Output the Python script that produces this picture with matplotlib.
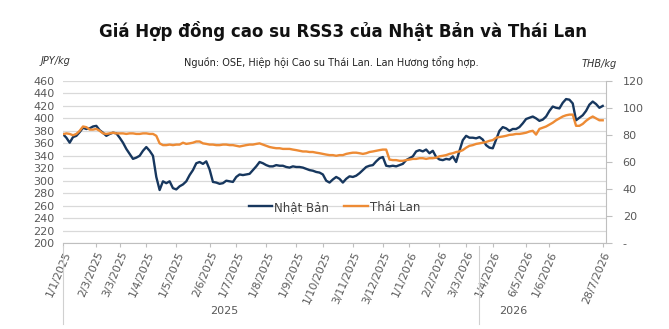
import matplotlib.pyplot as plt
from matplotlib.lines import Line2D

# Gia RSS3 Nhat Ban (JPY/kg, truc trai)
japan = [374.6, 369, 361, 370, 372, 378, 385, 383, 384, 387,
         388, 381, 377, 372, 375, 377, 376, 369, 361, 351,
         343, 335, 337, 340, 348, 354, 348, 340, 306, 285,
         299, 296, 299, 288, 286, 291, 294, 299, 309, 317,
         328, 330, 327,
         331, 318, 298, 297, 295, 296, 300, 299, 298, 306,
         310, 309, 310, 311, 317, 323, 330, 328, 325, 323,
         323, 325, 324, 324, 322, 321, 323, 322, 322, 321,
         319, 317, 316, 314, 313, 310, 300, 297, 302, 306,
         303, 297,
         303, 307, 306, 308, 312, 317, 322, 324, 325, 331,
         336, 338, 324, 323, 324, 323, 325, 327, 333, 336,
         339, 347, 349, 347, 350, 344, 348, 338, 334, 333,
         335, 334, 339, 330, 348, 365, 372, 369, 369, 368,
         370, 366,
         357, 353, 352, 366, 380, 386, 384, 380, 383, 383,
         386, 392, 399, 401, 403, 400, 396, 398, 403, 412,
         419, 417, 416, 425, 431, 430, 424, 397, 401, 405,
         412, 422, 427, 423, 417, 420]

# Gia RSS3 Thai Lan (THB/kg, truc phai)
thai = [80.6, 81.2, 80.8, 79.8, 80.8, 83.1, 86.3, 85.8, 84.0, 84.0,
        84.5, 83.1, 81.2, 80.8, 81.2, 81.7, 81.2, 81.2, 81.2, 80.8,
        81.2, 81.2, 80.8, 80.8, 81.2, 81.2, 80.8, 80.8, 79.4, 73.8,
        72.5, 72.5, 72.9, 72.5, 72.9, 72.9, 74.3, 73.4, 73.8, 74.3,
        75.2, 75.2, 73.8,
        73.4, 72.9, 72.9, 72.5, 72.5, 72.9, 72.9, 72.5, 72.5, 72.0,
        71.5, 72.0, 72.5, 72.9, 72.9, 73.4, 73.8, 72.9, 72.0, 71.1,
        70.6, 70.2, 70.2, 69.7, 69.7, 69.7, 69.2, 68.8, 68.3, 67.8,
        67.8, 67.4, 67.4, 66.9, 66.5, 66.0, 65.5, 65.1, 65.1, 64.6,
        65.1, 65.1,
        66.0, 66.5, 66.9, 66.9, 66.5, 66.0, 66.5, 67.4, 67.8, 68.3,
        68.8, 69.2, 69.2, 61.8, 61.4, 61.4, 60.9, 60.9, 61.4, 61.8,
        62.3, 62.3, 62.8, 62.8, 62.3, 62.8, 62.8, 63.2, 64.2, 64.6,
        65.1, 66.0, 66.5, 67.4, 67.8, 68.8, 70.6, 72.0, 72.5, 73.4,
        73.8, 74.3,
        74.8, 75.7, 76.2, 78.0, 78.5, 78.9, 79.4, 80.1, 80.3, 80.8,
        80.8, 81.2, 81.7, 82.6, 83.1, 80.3, 84.5, 85.4, 86.3, 87.7,
        89.1, 90.9, 92.3, 93.7, 94.6, 95.1, 95.1, 86.8, 86.8, 88.2,
        90.5, 92.3, 93.7, 92.3, 90.9, 90.9]

tick_pos = [0, 10, 17, 25, 34, 44, 52, 61, 70, 78, 87, 96, 104, 113, 121, 129, 139, 146, 162]
tick_labels = ['1/1/2025', '2/3/2025', '3/3/2025', '1/4/2025', '1/5/2025', '2/6/2025',
               '1/7/2025', '1/8/2025', '1/9/2025', '1/10/2025', '3/11/2025', '3/12/2025',
               '1/1/2026', '2/2/2026', '3/3/2026', '1/4/2026', '6/5/2026', '1/6/2026', '28/7/2026']
year_split = 125
years = ['2025', '2026']

navy = '#17375e'
orange = '#ed8b35'
grey = '#595959'

fig = plt.figure(figsize=(6.69, 3.29), dpi=100)
ax = fig.add_axes([0.0942, 0.2614, 0.8117, 0.4924])
x = list(range(len(japan)))

ax.plot(x, japan, color=navy, lw=1.7, zorder=3)
ax.set_ylim(200, 460)
ax.set_yticks(range(200, 461, 20))
ax.set_xlim(0, 163)
ax.grid(axis='y', color='#d9d9d9', lw=0.9)
ax.set_axisbelow(True)
for s in ['top', 'left', 'right']:
    ax.spines[s].set_visible(False)
ax.spines['bottom'].set_color('#bfbfbf')
ax.tick_params(axis='y', length=0, labelsize=8, colors=grey, pad=6)
ax.set_xticks(tick_pos)
ax.set_xticklabels(tick_labels, rotation=67, ha='right', va='top', rotation_mode='anchor')
ax.tick_params(axis='x', labelsize=7.8, colors=grey, length=3, color='#bfbfbf', pad=2)

ax2 = ax.twinx()
ax2.plot(x, thai, color=orange, lw=1.7, zorder=3)
ax2.set_ylim(0, 120)
ax2.set_yticks(range(0, 121, 20))
ax2.set_yticklabels(['-'] + [str(v) for v in range(20, 121, 20)])
for s in ['top', 'left', 'bottom']:
    ax2.spines[s].set_visible(False)
ax2.spines['right'].set_color('#bfbfbf')
ax2.tick_params(axis='y', labelsize=8, colors=grey, length=4, color='#bfbfbf', pad=8)

# duong phan cach nam duoi truc
for xv in [0, year_split]:
    ax.plot([xv, xv], [-0.02, -0.5], transform=ax.get_xaxis_transform(),
            color='#d0d0d0', lw=0.8, clip_on=False)
ax.text((0 + year_split) / 2 - 14, -0.42, years[0], transform=ax.get_xaxis_transform(),
        ha='center', va='center', fontsize=8, color=grey)
ax.text(year_split + 10, -0.42, years[1], transform=ax.get_xaxis_transform(),
        ha='center', va='center', fontsize=8, color=grey)

handles = [Line2D([], [], color=navy, lw=1.7), Line2D([], [], color=orange, lw=1.7)]
ax2.legend(handles, ['Nhật Bản', 'Thái Lan'], loc='center', bbox_to_anchor=(0.5, 0.222),
           ncol=2, frameon=False, fontsize=8.5, handlelength=2.0, handletextpad=0.15,
           columnspacing=1.3, labelcolor='#404040')

fig.text(0.513, 0.905, 'Giá Hợp đồng cao su RSS3 của Nhật Bản và Thái Lan',
         ha='center', va='center', fontsize=12, fontweight='bold', color='#111111')
fig.text(0.495, 0.812, 'Nguồn: OSE, Hiệp hội Cao su Thái Lan. Lan Hương tổng hợp.',
         ha='center', va='center', fontsize=7, color='#222222')
fig.text(0.06, 0.815, 'JPY/kg', ha='left', va='center', fontsize=7, style='italic', color='#333333')
fig.text(0.895, 0.805, 'THB/kg', ha='center', va='center', fontsize=7, style='italic', color='#333333')

fig.savefig('out.png', dpi=100)
